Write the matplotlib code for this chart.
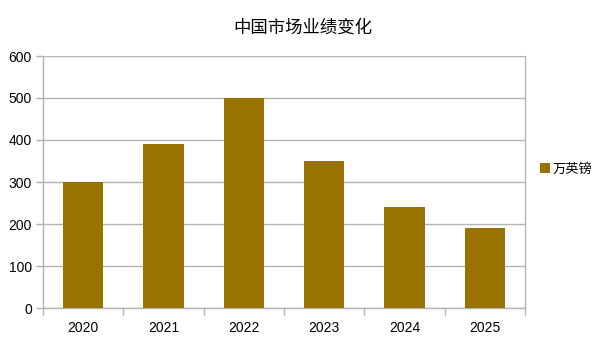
import matplotlib
matplotlib.use("Agg")
import matplotlib.pyplot as plt
from matplotlib.patches import Patch

# --- Data ---
years = ["2020", "2021", "2022", "2023", "2024", "2025"]
values = [300, 390, 500, 350, 240, 190]
series_name = "万英镑"
title = "中国市场业绩变化"

plt.rcParams['font.family'] = ['Liberation Sans', 'Noto Sans CJK SC', 'DejaVu Sans']

bar_color = "#997300"
grid_color = "#b3b3b3"

fig = plt.figure(figsize=(6.05, 3.4), dpi=100)
ax = fig.add_axes([43 / 605, 32 / 340, (525 - 43) / 605, (308 - 56) / 340])

x = list(range(len(years)))
ax.bar(x, values, width=0.5, color=bar_color, zorder=3)

ax.set_xlim(-0.5, len(years) - 0.5)
ax.set_ylim(0, 600)
ax.set_yticks(range(0, 601, 100))
ax.set_xticks(x)
ax.set_xticklabels(years)
# tick marks between categories
ax.set_xticks([i - 0.5 for i in range(len(years) + 1)], minor=True)
ax.tick_params(axis='x', which='major', length=0, pad=9, labelsize=10, colors='#000000')
ax.tick_params(axis='x', which='minor', length=5, color=grid_color, width=1)
ax.tick_params(axis='y', length=5, color=grid_color, width=1, pad=3, labelsize=10)

ax.grid(axis='y', color=grid_color, linewidth=1, zorder=0)
for side in ['left', 'bottom', 'right']:
    ax.spines[side].set_color(grid_color)
    ax.spines[side].set_linewidth(1)
ax.spines['top'].set_visible(False)

fig.text(0.5, 1 - 28 / 340, title, ha='center', va='center', fontsize=12.5,
         family=['Noto Sans CJK SC', 'DejaVu Sans'])

handle = Patch(facecolor=bar_color, edgecolor='none', label=series_name)
leg = fig.legend(handles=[handle], loc='center left', bbox_to_anchor=(535 / 605, 1 - 169 / 340),
                 frameon=False, handlelength=0.7, handleheight=0.7, handletextpad=0.25,
                 borderaxespad=0, prop={'family': ['Noto Sans CJK SC', 'DejaVu Sans'], 'size': 9.5})

fig.savefig("out.png", dpi=100)
plt.close(fig)
